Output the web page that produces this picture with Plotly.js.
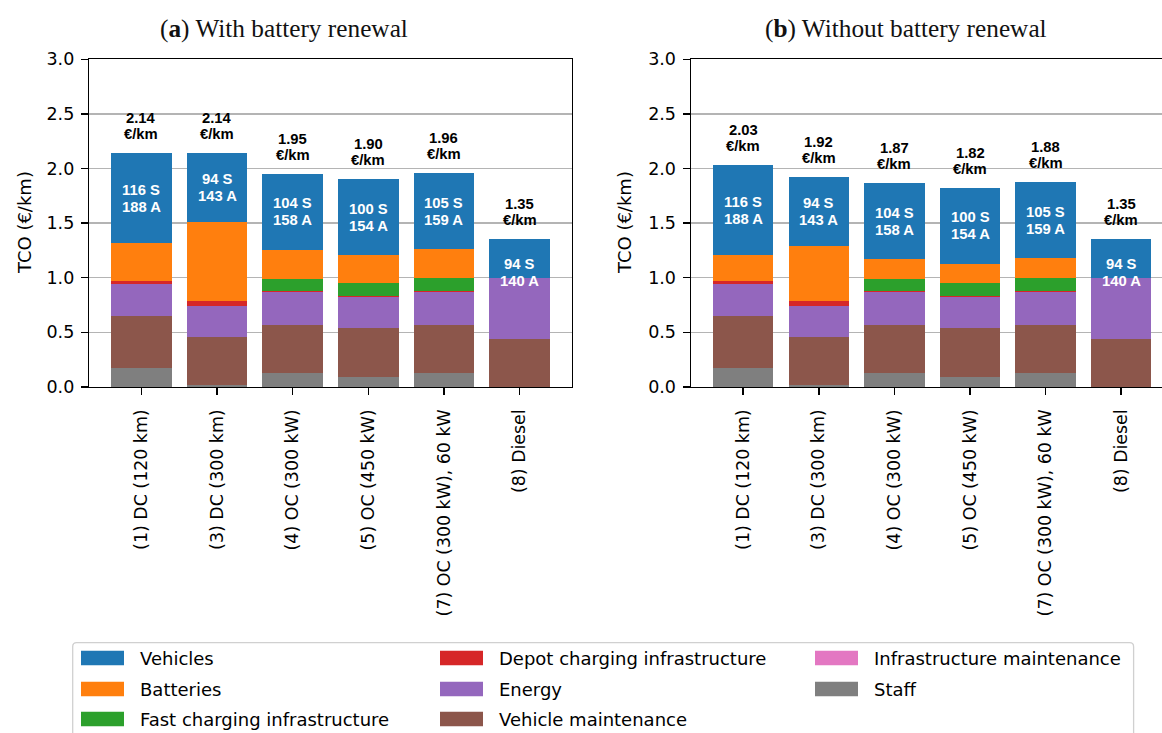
<!DOCTYPE html>
<html>
<head>
<meta charset="utf-8">
<script src="https://cdn.plot.ly/plotly-3.0.1.min.js"></script>
<style>
  html, body { margin: 0; padding: 0; background: #ffffff; overflow: hidden; }
  #chart { width: 1180px; height: 733px; }
</style>
</head>
<body>
<div id="chart"></div>
<script>
// Bus fleet scenarios
const categories = ['(1) DC (120 km)', '(3) DC (300 km)', '(4) OC (300 kW)', '(5) OC (450 kW)', '(7) OC (300 kW), 60 kW', '(8) Diesel'];

// Fleet sizes: standard (S) and articulated (A) buses
const fleetS = [116, 94, 104, 100, 105, 94];
const fleetA = [188, 143, 158, 154, 159, 140];

// Cost components in €/km
const staff = [0.175, 0.018, 0.13, 0.095, 0.13, 0];
const infraMaintenance = [0, 0, 0, 0, 0, 0];
const vehicleMaintenance = [0.478, 0.442, 0.44, 0.44, 0.44, 0.435];
const energy = [0.285, 0.284, 0.30, 0.29, 0.30, 0.565];
const depotCharging = [0.028, 0.046, 0.005, 0.005, 0.005, 0];
const fastCharging = [0, 0, 0.11, 0.125, 0.12, 0];
const batteriesRenewal = [0.349, 0.717, 0.267, 0.255, 0.265, 0];
const batteriesNoRenewal = [0.24, 0.497, 0.184, 0.175, 0.183, 0];
const vehicles = [0.826, 0.633, 0.70, 0.69, 0.70, 0.35];

const panelTitles = ['(<b>a</b>) With battery renewal', '(<b>b</b>) Without battery renewal'];

const W = 1180, H = 733;
const px = x => x / W;
const py = y => 1 - y / H;

const COLORS = {
  'Vehicles': '#1f77b4',
  'Batteries': '#ff7f0e',
  'Fast charging infrastructure': '#2ca02c',
  'Depot charging infrastructure': '#d62728',
  'Energy': '#9467bd',
  'Vehicle maintenance': '#8c564b',
  'Infrastructure maintenance': '#e377c2',
  'Staff': '#7f7f7f'
};

function stackFor(batteries) {
  // bottom to top
  return [
    ['Staff', staff],
    ['Infrastructure maintenance', infraMaintenance],
    ['Vehicle maintenance', vehicleMaintenance],
    ['Energy', energy],
    ['Depot charging infrastructure', depotCharging],
    ['Fast charging infrastructure', fastCharging],
    ['Batteries', batteries],
    ['Vehicles', vehicles]
  ];
}

const panels = [
  { stack: stackFor(batteriesRenewal), xa: 'x', ya: 'y' },
  { stack: stackFor(batteriesNoRenewal), xa: 'x2', ya: 'y2' }
];

const traces = [];
const annotations = [];
const labelFont = { family: 'Liberation Sans, Arial, sans-serif', size: 14.8, color: '#000000' };
const fleetFont = { family: 'Liberation Sans, Arial, sans-serif', size: 14.8, color: '#ffffff' };

panels.forEach((p) => {
  p.stack.forEach(([name, vals]) => {
    traces.push({
      type: 'bar', x: categories, y: vals, name: name,
      xaxis: p.xa, yaxis: p.ya, width: 0.8,
      marker: { color: COLORS[name], line: { width: 0 } },
      showlegend: false, hoverinfo: 'skip'
    });
  });
  categories.forEach((c, i) => {
    const total = p.stack.reduce((s, [, v]) => s + v[i], 0);
    // total cost label above the bar
    annotations.push({ xref: p.xa, yref: p.ya, x: c, y: total, yanchor: 'middle', yshift: 35,
      text: '<b>' + total.toFixed(2) + '</b>', showarrow: false, font: labelFont });
    annotations.push({ xref: p.xa, yref: p.ya, x: c, y: total, yanchor: 'middle', yshift: 19,
      text: '<b>€/km</b>', showarrow: false, font: labelFont });
    // fleet size inside the vehicles segment
    const yFleet = total - Math.max(vehicles[i] / 2, 0.3);
    annotations.push({ xref: p.xa, yref: p.ya, x: c, y: yFleet, yanchor: 'middle', yshift: 8.5,
      text: '<b>' + fleetS[i] + ' S</b>', showarrow: false, font: fleetFont });
    annotations.push({ xref: p.xa, yref: p.ya, x: c, y: yFleet, yanchor: 'middle', yshift: -8.5,
      text: '<b>' + fleetA[i] + ' A</b>', showarrow: false, font: fleetFont });
  });
});

// panel captions
[[284, panelTitles[0]], [905.5, panelTitles[1]]].forEach(([x, t]) => {
  annotations.push({ xref: 'paper', yref: 'paper', x: px(x), y: py(28), xanchor: 'center', yanchor: 'middle',
    text: t, showarrow: false, font: { family: 'Liberation Serif, Times New Roman, serif', size: 25.3, color: '#111111' } });
});

// y-axis titles
[25, 625].forEach((x) => {
  annotations.push({ xref: 'paper', yref: 'paper', x: px(x), y: py(223), xanchor: 'center', yanchor: 'middle',
    text: 'TCO (€/km)', textangle: -90, showarrow: false,
    font: { family: 'DejaVu Sans, sans-serif', size: 18, color: '#000000' } });
});

// legend, laid out in three columns (column-major)
const legendOrder = ['Vehicles', 'Batteries', 'Fast charging infrastructure', 'Depot charging infrastructure',
  'Energy', 'Vehicle maintenance', 'Infrastructure maintenance', 'Staff'];
const colSwatch = [81, 440, 815];
const colText = [138, 497, 872];
const rowY = [658, 689, 719];
const shapes = [];

// rounded legend frame
(function () {
  const r = 4;
  const X0 = 72.7, X1 = 1133.6, Y0 = 642.7, Y1 = 760;
  const path = `M ${X0 + r},${Y0} L ${X1 - r},${Y0} Q ${X1},${Y0} ${X1},${Y0 + r} L ${X1},${Y1} L ${X0},${Y1} L ${X0},${Y0 + r} Q ${X0},${Y0} ${X0 + r},${Y0} Z`;
  shapes.push({ type: 'path', xref: 'paper', yref: 'paper', layer: 'above',
    path: path.replace(/([\d.]+),([\d.]+)/g, (m, a, b) => px(+a) + ',' + py(+b)),
    line: { color: '#d0d0d0', width: 1.3 }, fillcolor: 'rgba(255,255,255,0.8)' });
})();

legendOrder.forEach((name, k) => {
  const col = Math.floor(k / 3), row = k % 3;
  const cy = rowY[row];
  shapes.push({ type: 'rect', xref: 'paper', yref: 'paper', layer: 'above',
    x0: px(colSwatch[col]), x1: px(colSwatch[col] + 43), y0: py(cy - 7.3), y1: py(cy + 7.3),
    fillcolor: COLORS[name], line: { width: 0 } });
  annotations.push({ xref: 'paper', yref: 'paper', x: px(colText[col]), y: py(cy), xanchor: 'left', yanchor: 'middle',
    text: name, showarrow: false, font: { family: 'DejaVu Sans, sans-serif', size: 18, color: '#000000' } });
});

const xAxisBase = {
  type: 'category', range: [-0.69, 5.69], fixedrange: true,
  showline: true, linecolor: '#000000', linewidth: 1.5, mirror: true,
  ticks: 'outside', ticklen: 7, tickwidth: 1.5, tickcolor: '#000000',
  tickangle: -90, ticklabelstandoff: 7,
  tickfont: { family: 'DejaVu Sans, sans-serif', size: 17.4, color: '#000000' },
  showgrid: false, zeroline: false
};
const yAxisBase = {
  range: [0, 3], tickvals: [0, 0.5, 1, 1.5, 2, 2.5, 3], tickformat: '.1f', fixedrange: true,
  showline: true, linecolor: '#000000', linewidth: 1.5, mirror: true,
  ticks: 'outside', ticklen: 7, tickwidth: 1.5, tickcolor: '#000000', ticklabelstandoff: 3,
  tickfont: { family: 'DejaVu Sans, sans-serif', size: 17.5, color: '#000000' },
  showgrid: true, gridcolor: '#b4b4b4', gridwidth: 1.5, zeroline: false,
  domain: [py(386.9), py(59.3)]
};

const layout = {
  width: W, height: H,
  margin: { l: 0, r: 0, t: 0, b: 0 },
  paper_bgcolor: '#ffffff', plot_bgcolor: '#ffffff',
  barmode: 'stack', bargap: 0.2,
  showlegend: false,
  xaxis: Object.assign({}, xAxisBase, { domain: [px(89.3), px(571.7)], anchor: 'y' }),
  yaxis: Object.assign({}, yAxisBase, { anchor: 'x' }),
  xaxis2: Object.assign({}, xAxisBase, { domain: [px(691), px(1173.4)], anchor: 'y2' }),
  yaxis2: Object.assign({}, yAxisBase, { anchor: 'x2' }),
  annotations: annotations,
  shapes: shapes
};

Plotly.newPlot('chart', traces, layout, { displayModeBar: false, staticPlot: true });
</script>
</body>
</html>
